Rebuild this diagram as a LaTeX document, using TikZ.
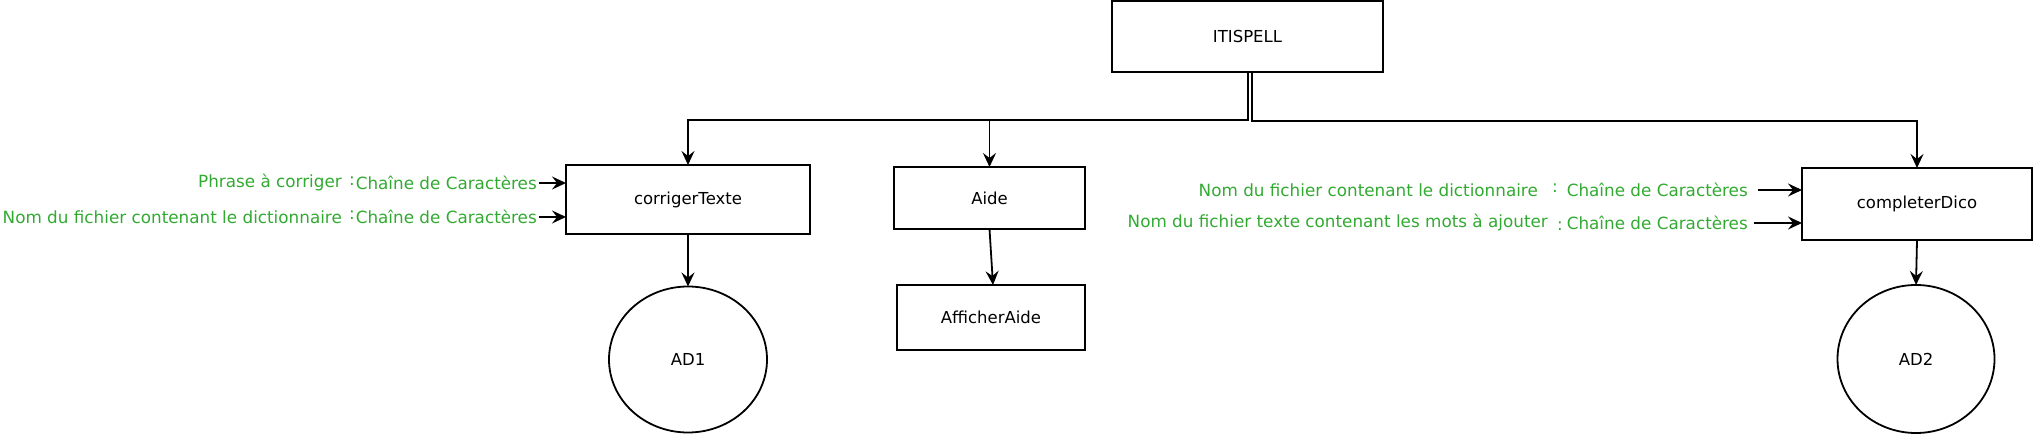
\documentclass[tikz,border=0pt]{standalone}
\usepackage{fontspec}
\setmainfont{DejaVu Sans}
\usetikzlibrary{arrows.meta,shapes.geometric}
\definecolor{lbl}{RGB}{50,170,50}
\tikzset{
  box/.style={draw,line width=1.8pt,rectangle,inner sep=0pt,outer sep=0pt,font=\fontsize{16.5}{19}\selectfont},
  oval/.style={draw,line width=1.8pt,ellipse,inner sep=0pt,outer sep=0pt,font=\fontsize{16.5}{19}\selectfont},
  arr/.style={line width=1.8pt,-{Stealth[length=14pt,width=13pt,inset=5pt]}},
  lab/.style={text=lbl,inner sep=0pt,font=\fontsize{16.8}{19}\selectfont}
}
\begin{document}
\begin{tikzpicture}[x=1pt,y=-1pt]
\useasboundingbox (0,0) rectangle (2042,435);
% boxes
\node[box,minimum width=271pt,minimum height=71pt] (itis) at (1247.5,36.5) {ITISPELL};
\node[box,minimum width=244pt,minimum height=69pt] (corr) at (688,199.5) {corrigerTexte};
\node[box,minimum width=191pt,minimum height=62pt] (aide) at (989.5,198) {Aide};
\node[box,minimum width=188pt,minimum height=65pt] (affi) at (991,317.5) {AfficherAide};
\node[box,minimum width=230pt,minimum height=72pt] (comp) at (1917,204) {completerDico};
\node[oval,minimum width=158pt,minimum height=146pt] (ad1) at (688,359.5) {AD1};
\node[oval,minimum width=157pt,minimum height=148pt] (ad2) at (1916,359) {AD2};
% bus
\coordinate (busL) at (1248,120);
\coordinate (busR) at (1252,121);
\draw[arr] (itis.south -| busL) -- (busL) -| (corr.north);
\draw[arr] (busL) -| (aide.north);
\draw[arr] (itis.south -| busR) -- (busR) -| (comp.north);
% downward
\draw[arr] (aide.south) -- ([xshift=2pt]affi.north);
\draw[arr] (corr.south) -- (ad1.north);
\draw[arr] (comp.south) -- (ad2.north);
% inputs left
\coordinate (inA) at (539,183);
\coordinate (inB) at (539,217);
\draw[arr] (inA) -- (inA -| corr.west);
\draw[arr] (inB) -- (inB -| corr.west);
\node[lab,anchor=east] (tA) at (537,183) {Chaîne de Caractères};
\node[lab] (cA) at (352,181) {:};
\node[lab,anchor=east] (nA) at (342,183) {Phrase à corriger};
\node[lab,anchor=east] (tB) at (537,217) {Chaîne de Caractères};
\node[lab] (cB) at (352,215) {:};
\node[lab,anchor=east] (nB) at (342,217) {Nom du fichier contenant le dictionnaire};
% inputs right
\coordinate (inC) at (1758,190);
\coordinate (inD) at (1754,223);
\draw[arr] (inC) -- (inC -| comp.west);
\draw[arr] (inD) -- (inD -| comp.west);
\node[lab,anchor=east] (tC) at (1748,190) {Chaîne de Caractères};
\node[lab] (cC) at (1555,188) {:};
\node[lab,anchor=east] (nC) at (1538,190) {Nom du fichier contenant le dictionnaire};
\node[lab,anchor=east] (tD) at (1748,223) {Chaîne de Caractères};
\node[lab] (cD) at (1560,226) {:};
\node[lab,anchor=east] (nD) at (1548,223) {Nom du fichier texte contenant les mots à ajouter};
\end{tikzpicture}
\end{document}
